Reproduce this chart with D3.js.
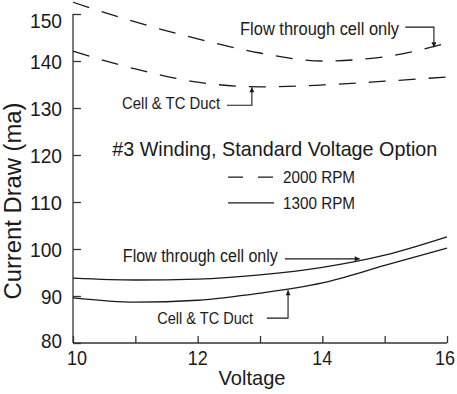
<!DOCTYPE html>
<html><head><meta charset="utf-8">
<script src="https://cdn.jsdelivr.net/npm/d3@7"></script>
<style>
html,body{margin:0;padding:0;background:#fff;}
svg{display:block;font-family:"Liberation Sans",Arial,sans-serif;}
</style></head>
<body>
<svg id="c" width="457" height="394"></svg>
<script>
const voltage = [10, 11, 12, 13, 14, 15, 16];
const flow2000 = [152.5, 148.3, 144.7, 141.7, 140.0, 140.9, 143.8];
const duct2000 = [142.1, 138.3, 135.5, 134.5, 134.9, 135.7, 136.6];
const flow1300 = [93.8, 93.4, 93.6, 94.5, 96.1, 98.7, 102.6];
const duct1300 = [89.6, 88.7, 89.1, 90.6, 92.8, 96.5, 100.2];
const xTicks = [10, 11, 12, 13, 14, 15, 16];
const xTickLabels = [10, 12, 14, 16];
const yTicks = [80, 90, 100, 110, 120, 130, 140, 150];

const svg = d3.select("#c");
const x = d3.scaleLinear().domain([10, 16]).range([73, 447]);
const y = d3.scaleLinear().domain([80, 150]).range([343, 14]);
const ink = "#1a1a1a";

// axes
const gx = svg.append("g").attr("transform", `translate(0,${y(80)})`)
  .call(d3.axisTop(x).tickValues(xTicks).tickSize(7).tickFormat(""));
gx.select(".domain").attr("d", `M${x(10)},0H${x(16)}`);
gx.selectAll("line, path").attr("stroke", "#333").attr("stroke-width", 1.3);

const gy = svg.append("g").attr("transform", `translate(${x(10)},0)`)
  .call(d3.axisRight(y).tickValues(yTicks).tickSize(8).tickFormat(""));
gy.select(".domain").attr("d", `M0,${y(150)}V${y(80)}`);
gy.selectAll("line, path").attr("stroke", "#333").attr("stroke-width", 1.3);

// tick labels
svg.append("g").selectAll("text").data(xTickLabels).join("text")
  .attr("x", d => x(d) + (d === 10 ? 4 : d === 16 ? -2 : 0)).attr("y", 365)
  .attr("text-anchor", "middle").attr("font-size", 21).attr("fill", ink)
  .attr("textLength", 20).attr("lengthAdjust", "spacingAndGlyphs")
  .text(d => d);
svg.append("g").selectAll("text").data(yTicks).join("text")
  .attr("x", 62).attr("y", d => y(d) + (d === 150 ? 6 : d === 80 ? -3 : 0))
  .attr("dy", "0.36em")
  .attr("text-anchor", "end").attr("font-size", 21).attr("fill", ink)
  .attr("lengthAdjust", "spacingAndGlyphs")
  .attr("textLength", d => d >= 100 ? 32 : 21)
  .text(d => d);

svg.append("text").attr("x", 252).attr("y", 385).attr("text-anchor", "middle")
  .attr("font-size", 21).attr("fill", ink)
  .attr("textLength", 67).attr("lengthAdjust", "spacingAndGlyphs").text("Voltage");
svg.append("text").attr("transform", `translate(21,201) rotate(-90)`)
  .attr("text-anchor", "middle").attr("font-size", 23).attr("fill", ink)
  .attr("textLength", 197).attr("lengthAdjust", "spacingAndGlyphs")
  .text("Current Draw (ma)");

// curves
const line = d3.line().x(d => x(d[0])).y(d => y(d[1])).curve(d3.curveMonotoneX);
const series = [
  {v: flow2000, dash: "17,13"},
  {v: duct2000, dash: "17,13"},
  {v: flow1300, dash: null},
  {v: duct1300, dash: null}
];
svg.append("g").selectAll("path").data(series).join("path")
  .attr("d", s => line(voltage.map((v, i) => [v, s.v[i]])))
  .attr("fill", "none").attr("stroke", ink).attr("stroke-width", 1.3)
  .attr("stroke-dasharray", s => s.dash);

// arrow marker
const defs = svg.append("defs");
defs.append("marker").attr("id", "arr").attr("viewBox", "0 0 10 10")
  .attr("refX", 10).attr("refY", 5).attr("markerWidth", 9).attr("markerHeight", 5)
  .attr("markerUnits", "userSpaceOnUse").attr("orient", "auto")
  .append("path").attr("d", "M0,0L10,5L0,10z").attr("fill", ink);

function annot(label, tx, ty, anchor, size, len, pts) {
  svg.append("text").attr("x", x(tx)).attr("y", y(ty)).attr("dy", "0.36em")
    .attr("text-anchor", anchor).attr("font-size", size).attr("fill", ink)
    .attr("textLength", len).attr("lengthAdjust", "spacingAndGlyphs").text(label);
  svg.append("path").attr("d", d3.line()(pts.map(p => [x(p[0]), y(p[1])])))
    .attr("fill", "none").attr("stroke", ink).attr("stroke-width", 1.1)
    .attr("marker-end", "url(#arr)");
}
annot("Flow through cell only", 12.68, 147.0, "start", 18, 159,
  [[15.33, 147.2], [15.79, 147.2], [15.79, 142.9]]);
annot("Cell & TC Duct", 12.36, 131.1, "end", 17, 98,
  [[12.47, 130.6], [12.87, 130.6], [12.87, 134.4]]);
annot("Flow through cell only", 10.8, 98.7, "start", 18, 155,
  [[13.4, 97.9], [14.6, 97.9]]);
annot("Cell & TC Duct", 11.35, 85.3, "start", 17, 96,
  [[13.11, 85.3], [13.45, 85.3], [13.45, 91.2]]);

// title & legend
svg.append("text").attr("x", x(10.63)).attr("y", y(121.5)).attr("dy", "0.36em")
  .attr("font-size", 21).attr("fill", ink)
  .attr("textLength", 325).attr("lengthAdjust", "spacingAndGlyphs")
  .text("#3 Winding, Standard Voltage Option");

const legend = [
  {label: "2000 RPM", dash: "15,15", val: 115.3},
  {label: "1300 RPM", dash: null, val: 109.8}
];
const lg = svg.append("g").selectAll("g").data(legend).join("g");
lg.append("line").attr("x1", 228).attr("x2", 274)
  .attr("y1", d => y(d.val)).attr("y2", d => y(d.val))
  .attr("stroke", ink).attr("stroke-width", 1.3).attr("stroke-dasharray", d => d.dash);
lg.append("text").attr("x", 283).attr("y", d => y(d.val)).attr("dy", "0.36em")
  .attr("font-size", 17).attr("fill", ink)
  .attr("textLength", 72).attr("lengthAdjust", "spacingAndGlyphs").text(d => d.label);
</script>
</body></html>
